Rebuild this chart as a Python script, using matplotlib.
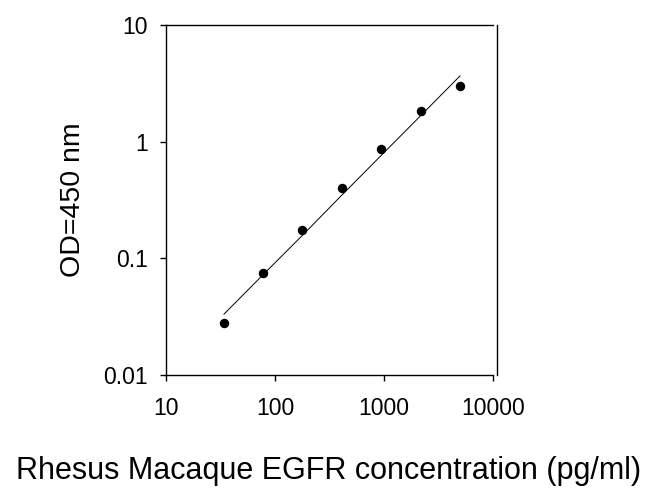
import numpy as np
import matplotlib
matplotlib.use("Agg")
import matplotlib.pyplot as plt
from matplotlib.ticker import FixedLocator, FixedFormatter, NullLocator

# ── DATA ──────────────────────────────────────────────────
conc = [34, 78, 178, 409, 938, 2170, 4980]              # pg/ml
od = [0.0278, 0.0745, 0.174, 0.404, 0.866, 1.83, 3.02]  # OD 450 nm
fit_od = [0.0332, 0.0726, 0.157, 0.347, 0.759, 1.67, 3.66]

x_ticks = [10, 100, 1000, 10000]
x_labels = ["10", "100", "1000", "10000"]
y_ticks = [0.01, 0.1, 1, 10]
y_labels = ["0.01", "0.1", "1", "10"]

# ── PLOT ──────────────────────────────────────────────────
plt.rcParams["font.family"] = ["Liberation Sans", "DejaVu Sans"]

fig = plt.figure(figsize=(6.59, 4.96), dpi=100)
ax = fig.add_axes([166 / 659, 121 / 496, 327 / 659, 350 / 496])

ax.plot(conc, fit_od, color="black", linewidth=0.7)
ax.plot(conc, od, "o", color="black", markersize=5.8)

ax.set_xscale("log")
ax.set_yscale("log")
ax.set_xlim(10, 10000)
ax.set_ylim(0.01, 10)

ax.xaxis.set_major_locator(FixedLocator(x_ticks))
ax.xaxis.set_major_formatter(FixedFormatter(x_labels))
ax.yaxis.set_major_locator(FixedLocator(y_ticks))
ax.yaxis.set_major_formatter(FixedFormatter(y_labels))
ax.xaxis.set_minor_locator(NullLocator())
ax.yaxis.set_minor_locator(NullLocator())

ax.tick_params(axis="both", direction="out", length=4, width=1, labelsize=16.5)
ax.tick_params(axis="x", pad=12)
ax.tick_params(axis="y", pad=9)

for s in ax.spines.values():
    s.set_linewidth(1)
ax.spines["right"].set_position(("outward", 3))

ax.text(-0.283, 0.5, "OD=450 nm", transform=ax.transAxes, rotation=90,
        ha="center", va="center", fontsize=20.5)
fig.text(329 / 659, 1 - 478.5 / 496, "Rhesus Macaque EGFR concentration (pg/ml)",
         ha="center", va="baseline", fontsize=22)

plt.savefig("out.png", dpi=100)
